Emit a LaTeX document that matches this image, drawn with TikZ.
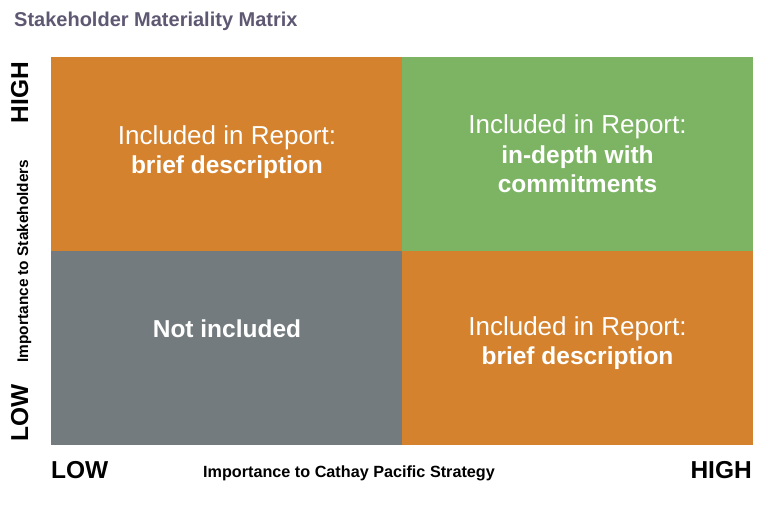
\documentclass[tikz,border=0pt]{standalone}
\usepackage{fontspec}
\setmainfont{Liberation Sans}
\definecolor{cporange}{HTML}{D4822D}
\definecolor{cpgreen}{HTML}{7DB464}
\definecolor{cpgray}{HTML}{747B7E}
\definecolor{cptitle}{HTML}{5E5873}
\begin{document}
\begin{tikzpicture}[x=1pt,y=-1pt,
  cell/.style={draw=none,inner sep=0pt,outer sep=0pt,anchor=north west,minimum width=351pt,minimum height=194pt},
  light/.style={inner sep=0pt,anchor=base,text=white,font=\fontsize{26}{30}\selectfont},
  strong/.style={inner sep=0pt,anchor=base,text=white,font=\fontsize{24.5}{30}\selectfont\bfseries},
  axisbig/.style={inner sep=0pt,text=black,font=\fontsize{24.5}{28}\selectfont\bfseries},
  axissmall/.style={inner sep=0pt,text=black,font=\fontsize{16}{18}\selectfont\bfseries}]
\useasboundingbox (0,0) rectangle (780,506);
% title
\node[inner sep=0pt,anchor=base west,text=cptitle,font=\fontsize{20}{22}\selectfont\bfseries] (title) at (14,27) {Stakeholder Materiality Matrix};
% cells
\node[cell,fill=cporange] (tl) at (51,57) {};
\node[cell,fill=cpgreen] (tr) at (402,57) {};
\node[cell,fill=cpgray] (bl) at (51,251) {};
\node[cell,fill=cporange] (br) at (402,251) {};
% cell texts
\node[light] (tla) at (227,144) {Included in Report:};
\node[strong] (tlb) at (227,173) {brief description};
\node[light] (tra) at (577.5,133) {Included in Report:};
\node[strong] (trb) at (577.5,163) {in-depth with};
\node[strong] (trc) at (577.5,192) {commitments};
\node[strong] (bla) at (227,337) {Not included};
\node[light] (bra) at (577.5,335) {Included in Report:};
\node[strong] (brb) at (577.5,364) {brief description};
% axes
\node[axisbig,rotate=90,anchor=base east] (yhigh) at (28,62) {HIGH};
\node[axisbig,rotate=90,anchor=base west] (ylow) at (28,442) {LOW};
\node[axissmall,font=\fontsize{15.4}{18}\selectfont\bfseries,rotate=90,anchor=base] (ylab) at (28,261) {Importance to Stakeholders};
\node[axisbig,anchor=base west] (xlow) at (51,478) {LOW};
\node[axisbig,anchor=base east] (xhigh) at (752,478) {HIGH};
\node[axissmall,font=\fontsize{16.2}{18}\selectfont\bfseries,anchor=base] (xlab) at (349,477) {Importance to Cathay Pacific Strategy};
\end{tikzpicture}
\end{document}
